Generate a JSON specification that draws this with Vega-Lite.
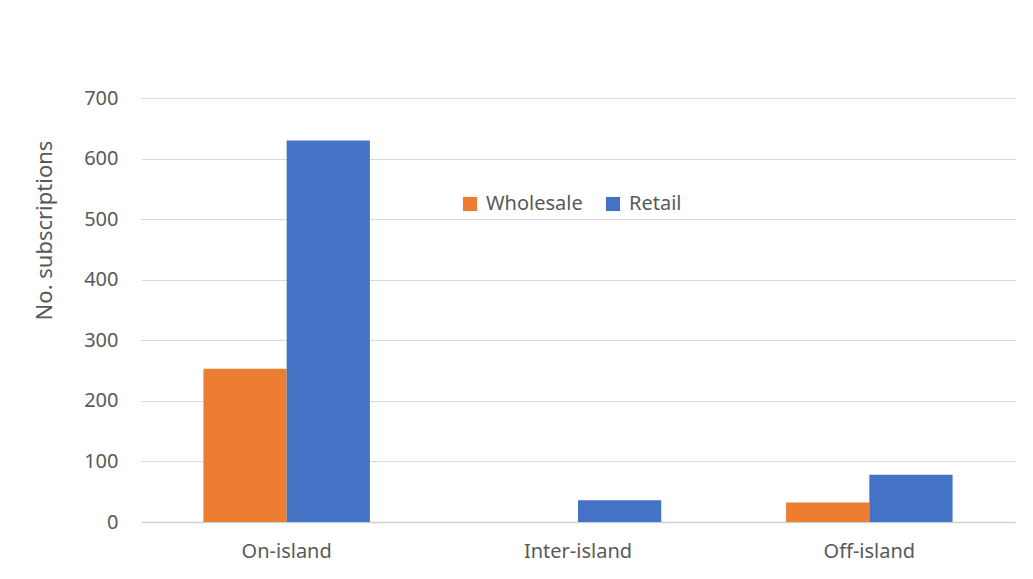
{
  "$schema": "https://vega.github.io/schema/vega-lite/v6.json",
  "autosize": {"type": "none"},
  "padding": {"left": 141, "top": 98, "right": 18, "bottom": 57},
  "width": 874,
  "height": 424,
  "background": "white",
  "data": {
    "values": [
      {"location": "On-island", "type": "Wholesale", "count": 253},
      {"location": "On-island", "type": "Retail", "count": 630},
      {"location": "Inter-island", "type": "Wholesale", "count": 0},
      {"location": "Inter-island", "type": "Retail", "count": 36},
      {"location": "Off-island", "type": "Wholesale", "count": 32},
      {"location": "Off-island", "type": "Retail", "count": 78}
    ]
  },
  "mark": {"type": "bar"},
  "encoding": {
    "x": {
      "field": "location", "type": "nominal",
      "sort": ["On-island", "Inter-island", "Off-island"],
      "scale": {"paddingInner": 0, "paddingOuter": 0},
      "axis": {
        "title": null, "labelAngle": 0, "ticks": false,
        "domainColor": "#d0d0d0", "domainWidth": 1.5,
        "labelFont": "Noto Sans", "labelFontSize": 20, "labelColor": "#595959",
        "labelPadding": 19
      }
    },
    "xOffset": {
      "field": "type", "type": "nominal",
      "sort": ["Wholesale", "Retail"],
      "scale": {"paddingInner": 0, "paddingOuter": 0.75}
    },
    "y": {
      "field": "count", "type": "quantitative",
      "scale": {"domain": [0, 700], "nice": false},
      "axis": {
        "values": [0, 100, 200, 300, 400, 500, 600, 700],
        "title": "No. subscriptions",
        "titleFont": "Noto Sans", "titleFontSize": 22, "titleFontWeight": "normal", "titleColor": "#595959",
        "titleX": -97, "titleY": 132, "titleAlign": "center", "titleBaseline": "middle", "titleAngle": -90,
        "domain": false, "ticks": false,
        "gridColor": "#d9d9d9", "gridWidth": 1,
        "labelFont": "Noto Sans", "labelFontSize": 20, "labelColor": "#595959",
        "labelPadding": 23
      }
    },
    "color": {
      "field": "type", "type": "nominal",
      "sort": ["Wholesale", "Retail"],
      "scale": {"domain": ["Wholesale", "Retail"], "range": ["#ED7D31", "#4472C4"]},
      "legend": {
        "title": null, "orient": "none", "legendX": 319, "legendY": 96,
        "direction": "horizontal", "symbolType": "square", "symbolSize": 200,
        "symbolStrokeWidth": 0,
        "labelFont": "Noto Sans", "labelFontSize": 20, "labelColor": "#595959",
        "columnPadding": 20, "labelOffset": 6
      }
    }
  },
  "config": {"view": {"stroke": null}}
}
